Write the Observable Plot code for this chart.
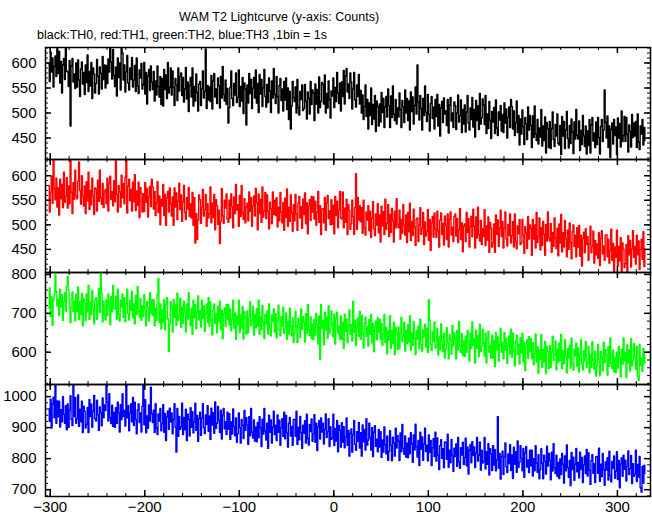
<!DOCTYPE html>
<html><head><meta charset="utf-8">
<script src="https://cdn.jsdelivr.net/npm/d3@7"></script>
<script src="https://cdn.jsdelivr.net/npm/@observablehq/plot@0.6"></script>
<style>
body{margin:0;background:#fff;font-family:"Liberation Sans",Arial,Helvetica,sans-serif;}
#wrap{position:relative;width:652px;height:515px;overflow:hidden;background:#fff}
.ttl{position:absolute;font-size:12.5px;line-height:1;white-space:nowrap;color:#000}
.panel{position:absolute;left:0}
</style></head><body>
<div id="wrap">
<div class="ttl" style="left:179px;top:11px">WAM T2 Lightcurve (y-axis: Counts)</div>
<div class="ttl" style="left:37px;top:29px">black:TH0, red:TH1, green:TH2, blue:TH3 ,1bin = 1s</div>
</div>
<script>
// time of first 1-s bin (s)
const startTime = -302;
// TH0 counts per 1-s bin
const th0Counts = [
599,563,622,582,610,552,593,614,573,629,
579,623,560,603,540,596,609,567,640,584,
582,553,605,474,594,609,562,578,549,600,
552,606,566,533,588,602,558,581,537,596,
561,616,543,583,554,601,529,590,578,540,
559,607,574,538,592,579,548,613,567,596,
550,595,559,608,582,635,602,568,627,575,
553,592,534,610,571,600,546,636,620,566,
596,542,582,615,560,546,590,567,611,552,
566,595,543,610,554,539,586,570,599,548,
557,601,538,581,518,574,587,545,594,562,
547,583,524,564,536,594,553,532,573,517,
569,514,587,547,576,529,601,540,552,590,
536,584,551,515,569,556,525,590,544,573,
580,535,571,522,548,591,528,562,503,555,
571,532,590,514,553,524,578,541,504,558,
563,515,548,584,530,543,628,509,555,526,
552,523,575,508,564,579,532,548,519,570,
554,510,573,530,593,537,524,566,517,549,
480,511,551,584,529,515,559,536,580,521,
531,586,513,553,524,571,499,560,548,476,
556,520,579,539,567,509,550,571,530,586,
520,559,501,577,538,567,513,550,587,533,
512,557,521,570,544,501,564,530,589,537,
519,573,533,500,555,569,525,548,504,563,
526,570,507,550,487,543,468,514,563,531,
523,552,500,567,511,496,543,527,556,505,
509,557,524,488,542,529,498,563,517,546,
540,485,558,518,547,500,572,511,523,561,
557,518,576,500,539,510,564,527,490,544,
534,570,511,551,523,581,540,519,560,504,
562,533,585,518,574,589,542,558,529,580,
562,508,548,581,526,512,556,533,577,518,
545,500,536,487,513,556,493,527,468,520,
495,550,477,517,488,535,463,524,512,474,
518,482,541,501,529,471,512,533,492,548,
515,471,534,491,554,498,485,527,478,510,
492,540,507,471,525,512,481,546,500,529,
485,524,466,542,503,532,478,515,552,498,
596,522,486,535,509,466,529,495,554,502,
483,537,497,464,519,533,489,512,468,527,
493,537,474,517,454,510,523,481,530,498,
504,475,527,460,516,531,484,500,471,522,
515,467,500,536,482,495,526,461,507,478,
516,462,502,535,480,466,510,487,531,472,
507,452,525,485,514,467,539,478,490,528,
516,477,535,459,498,469,523,486,449,503,
482,511,459,526,470,455,502,486,515,464,
497,461,520,480,508,450,491,512,471,527,
513,468,504,455,481,524,461,495,436,488,
458,506,473,437,491,478,447,512,466,495,
475,431,494,451,514,458,445,487,438,470,
452,507,434,474,445,492,420,481,469,431,
483,429,469,502,447,433,477,454,498,439,
436,475,417,493,454,483,429,466,503,449,
430,475,439,488,462,419,482,448,507,455,
448,484,425,465,437,495,454,433,474,418,
464,435,487,420,476,491,444,460,431,482,
437,491,451,418,473,487,443,466,546,481,
450,494,431,474,411,467,480,438,487,455,
472,417,490,450,479,432,504,443,455,493,
443,491,458,422,476,463,432,497,451,480,
454,483,431,498,442,427,474,458,487,436,
471,445];
// TH1 counts per 1-s bin
const th1Counts = [
580,526,566,599,544,632,574,551,595,536,
575,520,593,553,582,535,607,546,558,596,
534,579,543,635,566,523,586,552,611,559,
553,589,628,570,542,600,559,538,579,523,
588,549,607,531,570,541,595,558,521,575,
572,528,591,548,611,555,542,584,535,567,
572,543,595,528,584,599,552,568,539,590,
547,633,562,526,580,567,536,601,555,584,
543,597,632,524,579,593,549,572,528,587,
547,602,529,569,540,587,515,576,564,526,
563,527,586,546,574,516,557,578,537,593,
577,532,568,519,545,588,525,559,500,552,
538,582,519,562,499,555,568,526,575,543,
518,557,499,575,536,565,511,548,585,531,
561,507,547,580,525,511,555,532,576,517,
543,514,566,499,555,463,523,470,510,561,
551,503,536,572,518,531,562,497,543,514,
522,577,504,544,515,562,490,551,539,501,
530,462,507,574,518,503,550,534,563,512,
505,550,514,563,537,494,557,523,582,530,
541,497,560,517,580,524,511,553,504,536,
544,508,567,527,555,497,538,559,518,574,
545,490,563,523,552,505,577,516,528,566,
513,561,528,492,546,533,502,567,521,550,
519,555,496,536,508,566,525,504,545,489,
554,515,573,497,536,507,561,524,487,541,
508,562,522,489,544,558,514,537,493,552,
521,565,502,545,482,538,551,509,558,526,
557,512,548,499,525,568,505,539,480,532,
533,504,556,489,545,560,513,529,500,551,
501,540,482,558,519,548,494,531,568,514,
512,567,494,534,505,552,480,541,529,491,
502,550,517,481,535,604,491,556,510,539,
506,535,483,550,494,479,526,510,539,488,
528,474,514,547,492,478,522,499,543,484,
520,465,538,498,527,480,552,491,503,541,
476,521,485,534,508,465,528,494,553,501,
494,530,471,511,483,541,500,479,520,464,
525,486,544,468,507,478,532,495,458,512,
514,466,499,535,481,494,525,460,506,477,
487,531,468,511,448,504,517,475,524,492,
474,528,488,455,510,524,480,503,459,518,
499,470,522,455,511,526,479,495,466,517,
522,477,513,464,490,533,470,504,445,497,
502,466,525,485,513,455,496,517,476,532,
497,453,516,473,536,480,467,509,460,492,
476,531,458,498,469,516,444,505,493,455,
463,502,444,520,481,510,456,493,530,476,
507,453,493,526,471,457,501,478,522,463,
478,507,455,522,466,451,498,482,511,460,
463,511,478,442,496,483,452,517,471,500,
493,438,511,471,500,453,525,464,476,514,
449,494,458,507,481,438,501,467,526,474,
467,503,444,484,456,514,473,452,493,437,
502,463,521,445,484,455,509,472,435,489,
450,504,464,431,486,500,456,479,435,494,
455,499,436,479,416,472,485,443,492,460,
476,428,461,497,443,456,487,422,468,439,
461,432,484,417,473,488,441,457,428,479,
480,435,471,422,448,491,428,462,403,455,
434,489,416,456,427,474,402,463,451,413,
421,460,402,478,439,468,414,451,488,434,
456,420,479,439,467,409,450,471,430,486,
415,451];
// TH2 counts per 1-s bin
const th2Counts = [
714,765,692,742,669,733,748,800,756,719,
736,694,762,716,748,682,729,753,706,770,
795,760,714,676,739,755,705,731,681,749,
705,768,684,730,697,751,668,738,725,681,
750,705,772,684,729,696,758,715,673,735,
740,684,723,764,702,805,752,678,731,697,
683,735,694,750,721,671,743,704,772,712,
711,744,685,762,697,680,734,716,749,690,
740,678,724,762,699,683,733,707,757,689,
724,673,746,696,769,705,690,738,682,719,
692,748,709,668,730,715,680,754,701,735,
694,736,668,714,682,748,790,677,724,660,
709,676,735,658,723,740,686,602,671,730,
715,652,736,690,723,669,752,682,695,739,
664,716,675,731,702,652,724,685,753,693,
668,713,646,734,689,722,660,703,745,683,
707,665,733,687,719,653,700,724,677,741,
667,729,683,645,708,724,674,700,650,718,
680,731,658,708,635,699,714,666,722,685,
722,670,711,655,684,734,662,701,633,693,
671,734,650,696,663,717,634,704,691,647,
706,650,689,730,668,683,718,644,697,663,
712,667,734,646,691,658,720,677,635,697,
673,706,647,724,659,642,696,678,711,652,
699,637,683,721,658,642,692,666,716,648,
659,701,633,679,647,713,666,642,689,625,
649,705,666,625,687,672,637,711,658,692,
677,626,699,649,722,658,643,691,635,672,
633,685,644,700,671,621,693,582,722,662,
682,619,703,657,690,636,719,649,662,706,
672,639,698,621,686,703,649,667,634,693,
632,677,610,698,653,686,624,667,709,647,
671,629,731,651,683,617,664,688,641,705,
633,695,649,611,674,690,640,666,616,684,
646,697,624,674,601,665,680,632,688,651,
685,633,674,618,647,697,625,664,596,656,
631,694,610,656,623,677,594,664,651,607,
665,609,648,689,627,642,677,603,656,622,
671,626,693,605,650,617,679,636,594,656,
634,667,608,685,620,603,657,639,672,613,
661,599,735,683,620,604,654,628,678,610,
619,661,593,639,607,673,626,602,649,585,
607,663,624,583,645,630,595,669,616,650,
634,583,656,606,679,615,600,648,592,629,
589,641,600,656,627,577,649,610,678,618,
635,572,656,610,643,589,672,602,615,659,
623,590,649,572,637,654,600,618,585,644,
585,630,563,651,606,639,577,620,662,600,
625,583,651,605,637,571,618,642,595,659,
587,649,603,565,628,644,594,620,570,638,
598,649,576,626,553,617,632,584,640,603,
635,583,624,568,597,647,575,614,546,606,
582,645,561,607,574,628,545,615,602,558,
617,561,600,641,579,594,629,555,608,574,
624,579,646,558,603,570,632,589,547,609,
585,618,559,636,571,554,608,590,623,564,
611,549,595,633,570,554,604,578,628,560,
573,615,547,593,561,627,580,556,603,539,
564,620,581,540,602,587,552,626,573,607,
592,541,614,564,637,573,558,606,550,587,
548,600,559,615,586,536,608,569,637,577,
598,535,619,573,606,552,635,565,578,622,
589,556,615,538,528,620,566,584,551,610,
571,594];
// TH3 counts per 1-s bin
const th3Counts = [
960,920,992,899,977,998,932,1040,914,986,
935,985,902,958,919,1000,943,914,971,893,
976,901,957,1003,926,907,1040,936,997,914,
929,1005,904,959,919,985,884,969,953,899,
911,965,884,991,936,976,901,953,1004,929,
921,988,941,891,967,948,906,996,932,973,
955,1035,982,921,1009,932,913,972,904,949,
901,964,914,982,947,886,974,926,1009,936,
955,905,1040,932,971,890,947,976,919,997,
907,982,926,880,957,976,916,947,886,969,
1040,909,990,883,938,898,973,921,1030,945,
916,956,884,977,899,878,944,921,962,890,
912,974,885,946,858,935,954,895,963,918,
947,880,927,977,901,821,962,872,936,895,
903,979,878,933,893,959,858,943,927,873,
964,901,951,883,918,979,891,939,856,929,
950,875,931,977,900,881,941,910,971,888,
938,862,963,908,948,882,983,898,914,968,
924,884,956,863,941,962,896,919,878,950,
895,945,862,918,879,960,903,874,931,853,
880,947,900,850,926,907,865,955,891,932,
908,846,935,874,962,885,866,925,857,902,
854,917,867,935,900,839,927,879,962,889,
860,914,833,940,885,925,850,902,953,878,
908,858,941,885,924,843,900,929,872,950,
864,939,883,837,914,933,873,904,843,926,
926,872,953,846,901,861,936,884,833,908,
882,922,850,943,865,844,910,887,928,856,
880,942,853,914,826,903,922,863,931,886,
914,847,894,944,868,887,929,839,903,862,
867,943,842,897,857,923,822,907,891,837,
916,853,903,835,870,931,843,891,808,881,
896,821,877,923,846,827,887,856,917,834,
884,808,909,854,894,828,929,844,860,914,
868,828,900,807,885,906,840,863,822,894,
837,887,804,860,821,902,845,816,873,795,
823,890,843,793,869,850,808,898,834,875,
856,794,883,822,910,833,814,873,805,850,
803,866,816,884,849,788,876,828,911,838,
805,859,778,885,830,870,795,847,898,823,
843,793,876,820,859,778,835,864,807,885,
792,867,811,765,842,861,801,832,771,854,
852,798,879,772,827,787,862,810,759,834,
807,847,775,868,790,769,835,812,853,781,
804,866,777,838,750,827,846,787,855,810,
838,771,818,868,792,811,853,763,827,786,
792,868,767,822,782,848,747,832,816,762,
842,779,829,761,796,935,769,817,734,807,
824,749,805,851,774,755,815,784,845,762,
812,736,837,782,822,756,857,772,788,842,
801,761,833,740,818,839,773,796,755,827,
777,827,744,800,761,842,785,756,813,735,
765,832,785,735,811,792,750,840,776,817,
794,732,821,760,848,771,752,811,743,788,
736,799,749,817,782,721,809,761,844,771,
740,794,713,820,765,805,730,782,833,758,
788,738,821,765,804,723,780,809,752,830,
744,819,763,717,794,813,753,784,723,806,
807,753,834,727,782,742,817,765,714,789,
763,803,731,824,746,725,791,768,809,737,
760,822,733,794,706,783,802,743,811,766,
795,728,775,825,749,768,810,720,784,743,
751,827,726,781,741,807,706,692,775,721,
779,752];

// tick labels
const timeTicks = [-300, -200, -100, 0, 100, 200, 300];
const th0Ticks = [450, 500, 550, 600];
const th1Ticks = [450, 500, 550, 600];
const th2Ticks = [600, 700, 800];
const th3Ticks = [700, 800, 900, 1000];

// panel setup (axis ranges, layout, colours)
const xDomain = [-305, 335];
const panels = [
  {values: th0Counts, ticks: th0Ticks, minorStep: 10, domain: [407, 631], color: "#000000", top: 47, h: 112},
  {values: th1Counts, ticks: th1Ticks, minorStep: 10, domain: [403, 633], color: "#ff0000", top: 159, h: 113},
  {values: th2Counts, ticks: th2Ticks, minorStep: 20, domain: [517, 805], color: "#00ff00", top: 272, h: 112},
  {values: th3Counts, ticks: th3Ticks, minorStep: 20, domain: [678, 1039], color: "#0000ff", top: 384, h: 112}
];

const W = 652, ML = 45, MR = 2, MT = 12;
const FW = W - ML - MR;
const majLen = 6, minLen = 3;
const xMinor = d3.range(-300, 336, 20);
const wrap = document.getElementById("wrap");

panels.forEach((p, k) => {
  const last = k === panels.length - 1;
  const MB = last ? 22 : 12;
  const yMinor = d3.range(Math.ceil(p.domain[0] / p.minorStep) * p.minorStep, p.domain[1] + 0.01, p.minorStep);
  const series = p.values.map((v, i) => ({t: startTime + i, c: v}));
  const chart = Plot.plot({
    width: W,
    height: p.h + MT + MB,
    marginLeft: ML, marginRight: MR, marginTop: MT, marginBottom: MB,
    style: {background: "transparent", overflow: "visible", fontFamily: "'Liberation Sans', Arial, Helvetica, sans-serif", fontSize: "15px", color: "#000"},
    x: last ? {domain: xDomain, ticks: timeTicks, tickSize: 0, tickPadding: 5, label: null} : {domain: xDomain, axis: null},
    y: {domain: p.domain, ticks: p.ticks, tickSize: 0, tickPadding: 9, tickFormat: "d", label: null},
    marks: [
      Plot.lineY(series, {x: "t", y: "c", curve: "step-after", stroke: p.color, strokeWidth: 1.4, clip: true}),
      Plot.tickY(yMinor, {y: d => d, insetRight: FW - minLen, stroke: "#000"}),
      Plot.tickY(yMinor, {y: d => d, insetLeft: FW - minLen, stroke: "#000"}),
      Plot.tickY(p.ticks, {y: d => d, insetRight: FW - majLen, stroke: "#000", strokeWidth: 1.5}),
      Plot.tickY(p.ticks, {y: d => d, insetLeft: FW - majLen, stroke: "#000", strokeWidth: 1.5}),
      Plot.tickX(xMinor, {x: d => d, insetBottom: p.h - minLen, stroke: "#000"}),
      Plot.tickX(xMinor, {x: d => d, insetTop: p.h - minLen, stroke: "#000"}),
      Plot.tickX(timeTicks, {x: d => d, insetBottom: p.h - majLen, stroke: "#000", strokeWidth: 1.5}),
      Plot.tickX(timeTicks, {x: d => d, insetTop: p.h - majLen, stroke: "#000", strokeWidth: 1.5}),
      Plot.frame({stroke: "#000", strokeWidth: 1.5})
    ]
  });
  const holder = document.createElement("div");
  holder.className = "panel";
  holder.style.top = (p.top - MT) + "px";
  holder.appendChild(chart);
  wrap.appendChild(holder);
});
</script>
</body></html>
